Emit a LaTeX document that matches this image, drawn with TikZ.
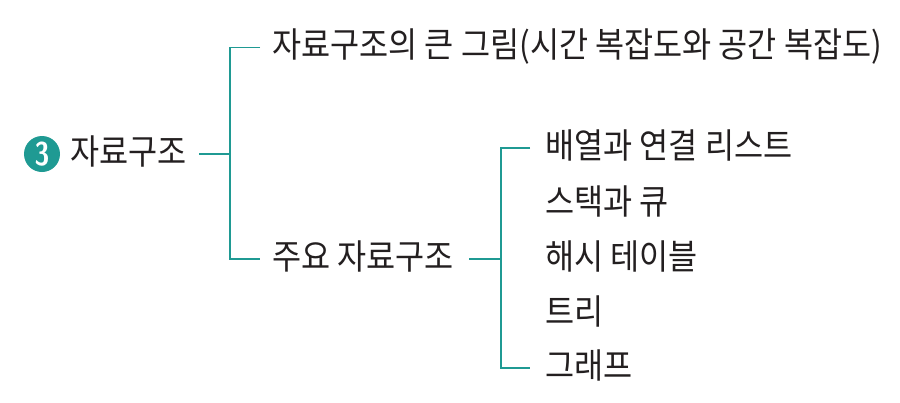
\documentclass[tikz,border=0pt]{standalone}
\usepackage{fontspec}
\usepackage{graphicx}
\newfontfamily\cjk{Noto Sans CJK KR}
\usetikzlibrary{positioning}

\definecolor{branchteal}{HTML}{1F9A93}
\definecolor{inkgray}{HTML}{231F20}

% slightly taller lettering
\newcommand{\tallword}[1]{\scalebox{1}[1.1]{#1}}

\begin{document}
\begin{tikzpicture}[
    label text/.style={anchor=west, inner sep=0pt, text=inkgray, font=\cjk\fontsize{18pt}{21pt}\selectfont, text height=1.14em, text depth=0em},
    branch line/.style={draw=branchteal, line width=1.1pt},
    number badge/.style={circle, fill=branchteal, minimum size=0.72cm, inner sep=0pt, text=white, font=\sffamily\bfseries\fontsize{17pt}{17pt}\selectfont}
]

% command drawing dimensions
\newcommand{\gap}{0.24}
\newcommand{\subgap}{0.3}
\newcommand{\stub}{0.6}

% ad hoc bounding box
\useasboundingbox (0, 0) rectangle (18, -8.04);

% root
\node[number badge] (badge) at (0.84, -3.08) {\scalebox{0.9}[1.1]{3}};
\node[label text] (root) at (1.4, -3.08) {\tallword{자료구조}};

% first level
\node[label text] (big) at (5.44, -0.95) {\tallword{자료구조의 큰 그림(시간 복잡도와 공간 복잡도)}};
\node[label text] (main) at (5.44, -5.18) {\tallword{주요 자료구조}};

% second level
\node[label text] (array) at (10.9, -2.96) {\tallword{배열과 연결 리스트}};
\node[label text] (stack) at (10.9, -4.08) {\tallword{스택과 큐}};
\node[label text] (hash) at (10.9, -5.18) {\tallword{해시 테이블}};
\node[label text] (tree) at (10.9, -6.28) {\tallword{트리}};
\node[label text] (graph) at (10.9, -7.36) {\tallword{그래프}};

% bracket from root
\coordinate (rootfork) at (4.6, -3.08);
\draw[branch line] ([xshift=\gap cm]root.east) -- (rootfork);
\draw[branch line] ([xshift=-\gap cm]big.west) -- ++(-\stub, 0) |- ([xshift=-\gap cm]main.west);

% bracket from main
\coordinate (mainfork) at (10.02, -5.18);
\draw[branch line] ([xshift=\subgap cm]main.east) -- (mainfork);
\draw[branch line] ([xshift=-\subgap cm]array.west) -- ++(-0.58, 0) |- ([xshift=-\subgap cm]graph.west);

\end{tikzpicture}
\end{document}
